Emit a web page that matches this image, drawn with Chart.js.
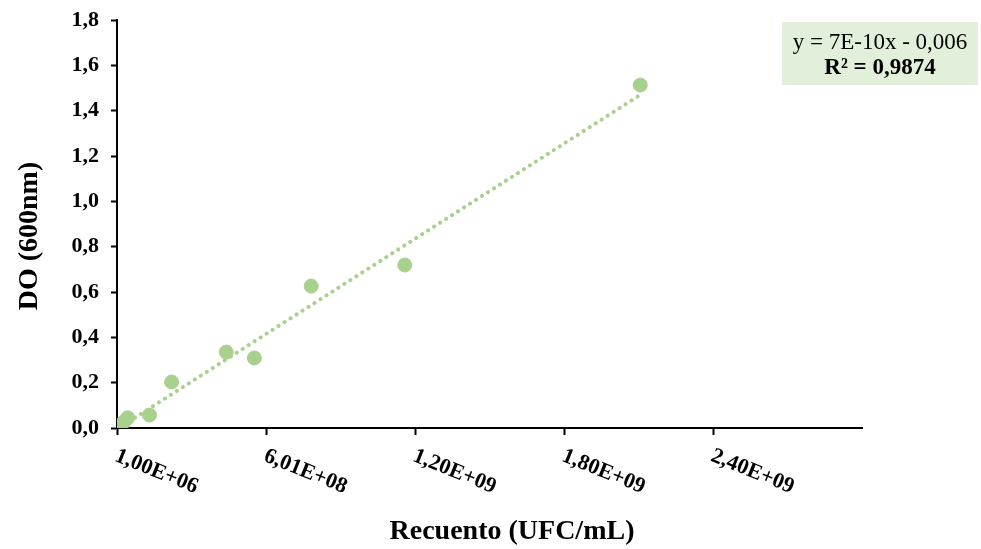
<!DOCTYPE html>
<html>
<head>
<meta charset="utf-8">
<script src="https://cdn.jsdelivr.net/npm/chart.js@4.4.1/dist/chart.umd.min.js"></script>
<style>
  html, body { margin: 0; padding: 0; background: #fff; }
  #wrap { width: 981px; height: 549px; }
</style>
</head>
<body>
<div id="wrap"><canvas id="myChart" width="981" height="549"></canvas></div>
<script>
// Recuento (UFC/mL) vs DO (600nm)
const recuento = [1e6, 1.6e7, 3.0e7, 4.4e7, 1.32e8, 2.21e8, 4.41e8, 5.54e8, 7.83e8, 1.16e9, 2.108e9];
const densidad = [0.004, 0.014, 0.028, 0.045, 0.057, 0.203, 0.335, 0.309, 0.626, 0.719, 1.513];

const xTickValues = [1e6, 6.01e8, 1.201e9, 1.801e9, 2.401e9, 3.001e9];
const xTickLabels = ['1,00E+06', '6,01E+08', '1,20E+09', '1,80E+09', '2,40E+09', ''];
const yTickValues = [0, 0.2, 0.4, 0.6, 0.8, 1.0, 1.2, 1.4, 1.6, 1.8];

// linear trendline as shown in the label
const pendiente = 7e-10;
const intercepto = -0.006;
const ecuacion = 'y = 7E-10x - 0,006';
const r2 = 'R² = 0,9874';

const verde = '#A9D18E';
const fuente = "'Liberation Serif', 'Times New Roman', serif";

const tendencia = [recuento[0], recuento[recuento.length - 1]].map(x => ({x: x, y: pendiente * x + intercepto}));

const extras = {
    id: 'extras',
    afterDraw(chart) {
        const ctx = chart.ctx;
        const xs = chart.scales.x;
        ctx.save();
        // rotated x tick labels
        ctx.fillStyle = '#000';
        ctx.font = 'bold 22px ' + fuente;
        ctx.textAlign = 'left';
        ctx.textBaseline = 'top';
        xTickValues.forEach((v, i) => {
            const px = xs.getPixelForValue(v);
            ctx.save();
            ctx.translate(px + 3, xs.top + 17);
            ctx.rotate(22 * Math.PI / 180);
            ctx.fillText(xTickLabels[i], 0, 0);
            ctx.restore();
        });
        // axis titles
        ctx.font = 'bold 28px ' + fuente;
        ctx.textAlign = 'center';
        ctx.textBaseline = 'middle';
        ctx.fillText('Recuento (UFC/mL)', 512, 532);
        ctx.save();
        ctx.translate(30, 236);
        ctx.rotate(-Math.PI / 2);
        ctx.fillText('DO (600nm)', 0, 0);
        ctx.restore();
        // equation box
        ctx.fillStyle = '#E2EFDA';
        ctx.fillRect(782, 22, 196, 63);
        ctx.fillStyle = '#000';
        ctx.font = '23px ' + fuente;
        ctx.fillText(ecuacion, 880, 43);
        ctx.font = 'bold 23px ' + fuente;
        ctx.fillText(r2, 880, 68);
        ctx.restore();
    }
};

const ctx = document.getElementById('myChart');
const myChart = new Chart(ctx, {
    type: 'scatter',
    data: {
        datasets: [{
            label: 'DO',
            data: recuento.map((x, i) => ({x: x, y: densidad[i]})),
            backgroundColor: verde,
            borderColor: verde,
            pointRadius: 7,
            pointHoverRadius: 7,
            order: 1
        }, {
            label: 'Lineal',
            type: 'line',
            data: tendencia,
            borderColor: verde,
            borderWidth: 4,
            borderDash: [0.1, 7],
            borderCapStyle: 'round',
            pointRadius: 0,
            fill: false,
            order: 2
        }]
    },
    options: {
        responsive: false,
        animation: false,
        layout: {
            padding: {top: 20, right: 119, bottom: 0, left: 0}
        },
        scales: {
            x: {
                type: 'linear',
                min: 1e6,
                max: 3.001e9,
                afterBuildTicks: (scale) => { scale.ticks = xTickValues.map(v => ({value: v})); },
                afterFit: (scale) => { scale.height = 121; },
                ticks: { display: false },
                grid: {
                    drawOnChartArea: false,
                    tickLength: 7,
                    tickWidth: 2,
                    color: (c) => c.index === xTickValues.length - 1 ? 'rgba(0,0,0,0)' : '#000'
                },
                border: { color: '#000', width: 2 }
            },
            y: {
                min: 0,
                max: 1.8,
                afterBuildTicks: (scale) => { scale.ticks = yTickValues.map(v => ({value: v})); },
                afterFit: (scale) => {
                    scale.width = 117;
                    scale.paddingTop = 0;
                    scale.paddingBottom = 0;
                },
                ticks: {
                    color: '#000',
                    padding: 12,
                    font: { family: fuente, size: 22, weight: 'bold' },
                    callback: (v) => v.toFixed(1).replace('.', ',')
                },
                grid: {
                    drawOnChartArea: false,
                    tickLength: 6,
                    tickWidth: 2,
                    color: '#000'
                },
                border: { color: '#000', width: 2 }
            }
        },
        plugins: {
            legend: { display: false },
            tooltip: { enabled: false }
        }
    },
    plugins: [extras]
});
</script>
</body>
</html>
